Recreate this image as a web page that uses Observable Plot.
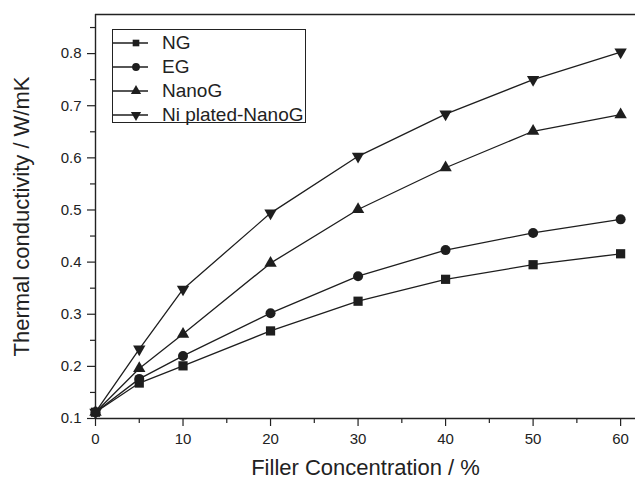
<!DOCTYPE html>
<html>
<head>
<meta charset="utf-8">
<script src="https://cdn.jsdelivr.net/npm/d3@7"></script>
<script src="https://cdn.jsdelivr.net/npm/@observablehq/plot@0.6"></script>
<style>
  html, body { margin: 0; padding: 0; background: #fff; }
  #wrap { position: relative; width: 635px; height: 478px; font-family: "Liberation Sans", Arial, sans-serif; color: #222; }
  #legend { position: absolute; left: 112px; top: 29px; width: 192px; height: 92px; border: 1px solid #222; background: #fff; }
  .row { position: absolute; left: 0; height: 24px; display: flex; align-items: center; }
  .row svg { display: block; }
  .row span { position: absolute; left: 49px; font-size: 19px; white-space: nowrap; line-height: 24px; top: 0; }
</style>
</head>
<body>
<div id="wrap"><div id="legend"></div></div>
<script>
// ---- data ----
const concentration = [0, 5, 10, 20, 30, 40, 50, 60];
const seriesNames = ["NG", "EG", "NanoG", "Ni plated-NanoG"];
const ngValues    = [0.112, 0.168, 0.201, 0.268, 0.325, 0.367, 0.395, 0.416];
const egValues    = [0.112, 0.176, 0.220, 0.302, 0.373, 0.423, 0.456, 0.482];
const nanogValues = [0.112, 0.196, 0.262, 0.398, 0.501, 0.581, 0.651, 0.683];
const niValues    = [0.112, 0.233, 0.348, 0.494, 0.603, 0.684, 0.750, 0.803];
const xMajorTicks = [0, 10, 20, 30, 40, 50, 60];
const xMinorTicks = [5, 15, 25, 35, 45, 55];
const yMajorTicks = [0.1, 0.2, 0.3, 0.4, 0.5, 0.6, 0.7, 0.8];
const yMinorTicks = [0.15, 0.25, 0.35, 0.45, 0.55, 0.65, 0.75, 0.85];
const xDomain = [0, 61.7];
const yDomain = [0.1, 0.875];
const xTitle = "Filler Concentration / %";
const yTitle = "Thermal conductivity / W/mK";

const allValues = [ngValues, egValues, nanogValues, niValues];
const symbols = [
  {symbol: "square", r: 5.2, rotate: 0},
  {symbol: "circle", r: 5.0, rotate: 0},
  {symbol: "triangle", r: 4.6, rotate: 0},
  {symbol: "triangle", r: 4.6, rotate: 180}
];
const ink = "#1e1e1e";

const rows = [];
seriesNames.forEach((s, i) => concentration.forEach((c, j) => rows.push({series: s, x: c, y: allValues[i][j]})));

const dotMarks = seriesNames.map((s, i) =>
  Plot.dot(rows.filter(d => d.series === s), {
    x: "x", y: "y", symbol: symbols[i].symbol, r: symbols[i].r, rotate: symbols[i].rotate,
    fill: ink, stroke: "none"
  })
);

const chart = Plot.plot({
  width: 635, height: 478,
  marginLeft: 95, marginTop: 14, marginRight: 0, marginBottom: 60,
  x: {domain: xDomain},
  y: {domain: yDomain},
  style: {fontFamily: "'Liberation Sans', Arial, sans-serif", fontSize: "15px", color: "#222", background: "transparent"},
  marks: [
    Plot.axisX({ticks: xMajorTicks, tickSize: 8, tickPadding: 7, tickFormat: d => String(d), label: null, strokeWidth: 1.2}),
    Plot.axisX({ticks: xMinorTicks, tickSize: 5, tickFormat: () => "", label: null, strokeWidth: 1.2}),
    Plot.axisY({ticks: yMajorTicks, tickSize: 8, tickPadding: 6, tickFormat: d3.format(".1f"), label: null, strokeWidth: 1.2}),
    Plot.axisY({ticks: yMinorTicks, tickSize: 5, tickFormat: () => "", label: null, strokeWidth: 1.2}),
    Plot.ruleX([xDomain[0]], {stroke: "#222", strokeWidth: 1.4}),
    Plot.ruleY([yDomain[0]], {stroke: "#222", strokeWidth: 1.4}),
    Plot.ruleY([yDomain[1]], {stroke: "#222", strokeWidth: 1.6}),
    Plot.line(rows, {x: "x", y: "y", z: "series", stroke: ink, strokeWidth: 1.3}),
    ...dotMarks,
    Plot.text([xTitle], {frameAnchor: "bottom", dy: 56, lineAnchor: "bottom", textAnchor: "middle", fontSize: 22, fill: "#222"}),
    Plot.text([yTitle], {frameAnchor: "left", dx: -82, rotate: -90, lineAnchor: "top", textAnchor: "middle", fontSize: 22, fill: "#222"})
  ]
});
document.getElementById("wrap").prepend(chart);

// ---- legend ----
const legend = document.getElementById("legend");
const ns = "http://www.w3.org/2000/svg";
seriesNames.forEach((s, i) => {
  const row = document.createElement("div");
  row.className = "row";
  row.style.top = (i * 24 + 0.5) + "px";
  const svg = document.createElementNS(ns, "svg");
  svg.setAttribute("width", 40); svg.setAttribute("height", 24);
  const ln = document.createElementNS(ns, "line");
  ln.setAttribute("x1", 0); ln.setAttribute("x2", 35); ln.setAttribute("y1", 12); ln.setAttribute("y2", 12);
  ln.setAttribute("stroke", ink); ln.setAttribute("stroke-width", 1.3);
  svg.appendChild(ln);
  const p = document.createElementNS(ns, "path");
  const symType = [d3.symbolSquare, d3.symbolCircle, d3.symbolTriangle, d3.symbolTriangle][i];
  const size = [44, 48, 46, 46][i];
  p.setAttribute("d", d3.symbol(symType, size)());
  p.setAttribute("transform", `translate(23,12) rotate(${symbols[i].rotate})`);
  p.setAttribute("fill", ink);
  svg.appendChild(p);
  row.appendChild(svg);
  const t = document.createElement("span");
  t.textContent = s;
  row.appendChild(t);
  legend.appendChild(row);
});
</script>
</body>
</html>
